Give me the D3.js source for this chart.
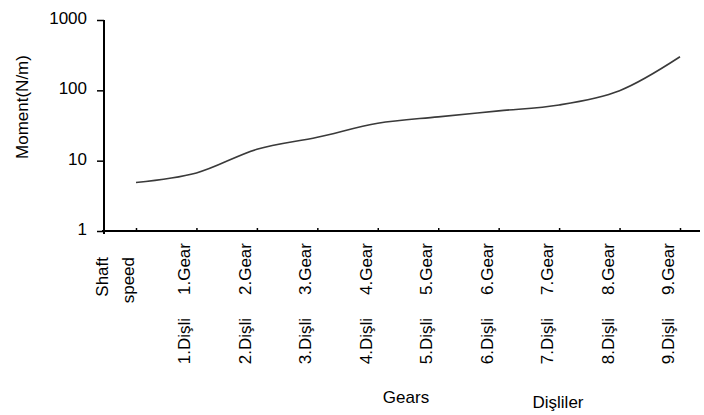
<!DOCTYPE html>
<html><head><meta charset="utf-8">
<script src="https://cdn.jsdelivr.net/npm/d3@7"></script>
<style>
html,body{margin:0;padding:0;background:#fff;}
text{font-family:"Liberation Sans",Arial,sans-serif;fill:#000;}
</style></head>
<body>
<svg id="chart" width="704" height="415"></svg>
<script>
const categories = ["Shaft speed","1.Gear","2.Gear","3.Gear","4.Gear","5.Gear","6.Gear","7.Gear","8.Gear","9.Gear"];
const gearLabels = ["", "1.Gear","2.Gear","3.Gear","4.Gear","5.Gear","6.Gear","7.Gear","8.Gear","9.Gear"];
const disliLabels = ["", "1.Dişli","2.Dişli","3.Dişli","4.Dişli","5.Dişli","6.Dişli","7.Dişli","8.Dişli","9.Dişli"];
const moment = [4.9, 6.7, 14.5, 21.5, 34, 42, 51, 62, 99, 300];
const yTicks = [1, 10, 100, 1000];
const yTitle = "Moment(N/m)";
const xTitleEn = "Gears";
const xTitleTr = "Dişliler";

const svg = d3.select("#chart");
const fs = 17;
const mLeft = 104, mTop = 20, mBottom = 231;

const x = d3.scalePoint().domain(categories).range([136, 680]);
const y = d3.scaleLog().domain([1, 1000]).range([mBottom, mTop]);

// y axis
const yAxis = d3.axisLeft(y).tickValues(yTicks).tickFormat(d3.format("d")).tickSize(7).tickSizeOuter(0);
const gy = svg.append("g").attr("transform", `translate(${mLeft},0)`).call(yAxis);
gy.select(".domain").attr("stroke", "#000").attr("stroke-width", 2).attr("d", `M0,${mTop}V${mBottom + 3}`);
gy.selectAll(".tick line").attr("stroke", "#000").attr("stroke-width", 1.5);
gy.selectAll(".tick text").attr("font-size", fs).attr("font-family", "Liberation Sans, Arial, sans-serif").attr("x", -17).attr("dy", "0.2em");

// x axis
const xAxis = d3.axisTop(x).tickSize(3).tickFormat("").tickSizeOuter(0);
const gx = svg.append("g").attr("transform", `translate(0,${mBottom})`).call(xAxis);
gx.select(".domain").attr("stroke", "#000").attr("stroke-width", 2).attr("d", `M${mLeft - 2},0H700`);
gx.selectAll(".tick line").attr("stroke", "#000").attr("stroke-width", 1.5);

// category labels
const lab = svg.append("g").attr("font-size", fs);
categories.forEach((c, i) => {
  const cx = x(c);
  if (i === 0) {
    lab.append("text").attr("transform", `translate(${cx - 34},257) rotate(-90)`)
      .attr("text-anchor", "end").attr("dy", "0.35em").text("Shaft");
    lab.append("text").attr("transform", `translate(${cx - 8},257) rotate(-90)`)
      .attr("text-anchor", "end").attr("dy", "0.35em").text("speed");
  } else {
    lab.append("text").attr("transform", `translate(${cx - 12},243) rotate(-90)`)
      .attr("text-anchor", "end").attr("dy", "0.35em").text(gearLabels[i]);
    lab.append("text").attr("transform", `translate(${cx - 12},318) rotate(-90)`)
      .attr("text-anchor", "end").attr("dy", "0.35em").text(disliLabels[i]);
  }
});

// line
const line = d3.line().x((d, i) => x(categories[i])).y(d => y(d)).curve(d3.curveCatmullRom.alpha(0.5));
svg.append("path").datum(moment).attr("d", line).attr("fill", "none")
  .attr("stroke", "#3a3a3a").attr("stroke-width", 1.6);

// titles
svg.append("text").attr("transform", "translate(22,107) rotate(-90)").attr("text-anchor", "middle")
  .attr("dy", "0.35em").attr("font-size", fs).text(yTitle);
svg.append("text").attr("x", 406).attr("y", 403).attr("text-anchor", "middle").attr("font-size", fs).text(xTitleEn);
svg.append("text").attr("x", 558).attr("y", 408).attr("text-anchor", "middle").attr("font-size", fs).text(xTitleTr);
</script>
</body></html>
